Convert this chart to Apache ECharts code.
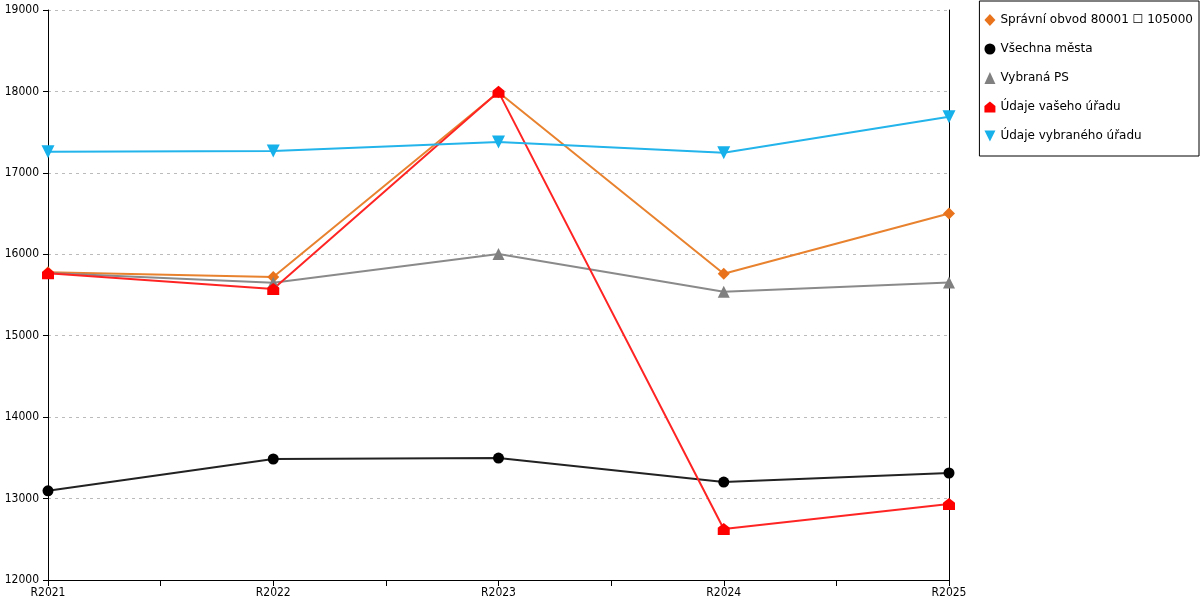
<!DOCTYPE html>
<html>
<head>
<meta charset="UTF-8">
<title></title>
<script src="https://cdn.jsdelivr.net/npm/echarts@6/dist/echarts.min.js"></script>
<style type="text/css">
	html, body { margin: 0; padding: 0; background: #fff; }
	#chart { width: 1200px; height: 600px; }
</style>
</head>
<body>
<div id="chart"></div>
<script type="text/javascript">
	var categories = ['R2021', 'R2022', 'R2023', 'R2024', 'R2025'];
	var seriesNames = ['Správní obvod 80001 \u2610 105000', 'Všechna města', 'Vybraná PS', 'Údaje vašeho úřadu', 'Údaje vybraného úřadu'];
	var obvod = [15780, 15720, 17990, 15760, 16500];
	var mesta = [13095, 13486, 13498, 13203, 13314];
	var vybranaPS = [15770, 15650, 16003, 15540, 15655];
	var vasUrad = [15768, 15574, 17995, 12626, 12933];
	var vybranyUrad = [17258, 17268, 17379, 17246, 17690];
	var yTicks = { min: 12000, max: 19000, step: 1000 };

	var house = 'path://M0,10 L0,4 L5,0 L10,4 L10,10 Z';
	var downTri = 'path://M0,0 L10,0 L5,10 Z';
	var axisFont = 'DejaVu Sans Condensed';

	function pts(arr) {
		var out = [];
		for (var i = 0; i < arr.length; i++) out.push([i, arr[i]]);
		return out;
	}

	function line(name, arr, color, lineColor, symbol, size) {
		return {
			name: name,
			type: 'line',
			data: pts(arr),
			symbol: symbol,
			symbolSize: size,
			showAllSymbol: true,
			itemStyle: { color: color },
			lineStyle: { color: lineColor, width: 2 },
			emphasis: { disabled: true }
		};
	}

	var chart = echarts.init(document.getElementById('chart'));
	chart.setOption({
		animation: false,
		textStyle: { fontFamily: 'DejaVu Sans' },
		grid: { left: 48, right: 251, top: 10, bottom: 20, containLabel: false },
		legend: {
			orient: 'vertical',
			right: 1,
			top: 1,
			padding: [13, 6, 14, 5],
			itemGap: 17,
			itemWidth: 11,
			itemHeight: 12,
			borderColor: '#000',
			borderWidth: 1,
			textStyle: { fontSize: 12, color: '#000', fontFamily: 'DejaVu Sans' },
			data: [
				{ name: seriesNames[0], icon: 'diamond' },
				{ name: seriesNames[1], icon: 'circle' },
				{ name: seriesNames[2], icon: 'triangle' },
				{ name: seriesNames[3], icon: house },
				{ name: seriesNames[4], icon: downTri }
			]
		},
		xAxis: {
			type: 'value',
			min: 0,
			max: categories.length - 1,
			interval: 0.5,
			axisLine: { lineStyle: { color: '#000', width: 1 } },
			axisTick: { show: true, length: 6, lineStyle: { color: '#000' } },
			splitLine: { show: false },
			axisLabel: {
				color: '#000',
				fontSize: 12,
				fontFamily: axisFont,
				margin: 7,
				showMinLabel: true,
				showMaxLabel: true,
				formatter: function (v) {
					return Number.isInteger(v) ? categories[v] : '';
				}
			}
		},
		yAxis: [{
			type: 'value',
			min: yTicks.min,
			max: yTicks.max,
			interval: yTicks.step,
			axisLine: { show: true, lineStyle: { color: '#000', width: 1 } },
			axisTick: { show: true, length: 5, lineStyle: { color: '#000' } },
			axisLabel: {
				color: '#000',
				fontSize: 12,
				fontFamily: axisFont,
				margin: 9,
				formatter: function (v) { return String(v); }
			},
			splitLine: { show: true, lineStyle: { color: '#bbb', type: [3, 4], width: 1 } }
		}, {
			type: 'value',
			position: 'right',
			min: yTicks.min,
			max: yTicks.max,
			interval: yTicks.step,
			axisLine: { show: true, lineStyle: { color: '#000', width: 1 } },
			axisTick: { show: false },
			axisLabel: { show: false },
			splitLine: { show: false }
		}],
		series: [
			line(seriesNames[0], obvod, '#e8731c', '#e8822f', 'diamond', 12),
			line(seriesNames[1], mesta, '#000', '#222', 'circle', 11),
			line(seriesNames[2], vybranaPS, '#808080', '#8a8a8a', 'triangle', 12),
			line(seriesNames[3], vasUrad, '#ff0000', '#ff2424', house, 12),
			line(seriesNames[4], vybranyUrad, '#16b0ea', '#22b4ea', downTri, 13)
		]
	});
</script>
</body>
</html>
